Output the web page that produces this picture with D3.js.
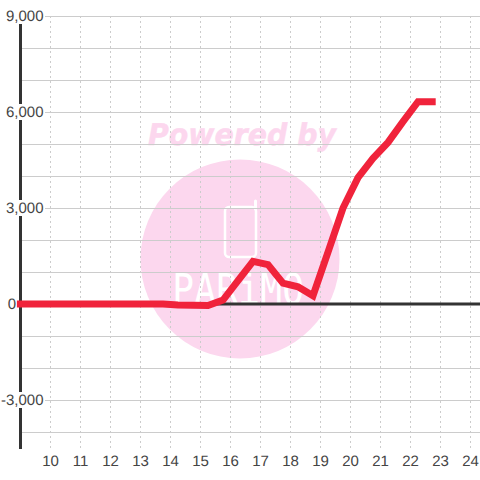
<!DOCTYPE html>
<html><head><meta charset="utf-8">
<style>html,body{margin:0;padding:0;background:#fff}svg{display:block}text{text-rendering:geometricPrecision}</style>
<script src="https://cdn.jsdelivr.net/npm/d3@7/dist/d3.min.js"></script></head>
<body><svg id="c" width="480" height="480"></svg>
<script>
const xTicks=[10,11,12,13,14,15,16,17,18,19,20,21,22,23,24];
const yGrid=[9000,8000,7000,6000,5000,4000,3000,2000,1000,-1000,-2000,-3000,-4000];
const yLabels=[9000,6000,3000,-3000];
const zeroLabel=[0];
const logoLetters=['P','A','R','i','M','O'];
const xs=[8.88,13.75,14.25,14.75,15.25,15.75,16.25,16.75,17.25,17.75,18.25,18.75,19.25,19.75,20.25,20.75,21.25,21.75,22.25,22.84];
const ys=[0,0,-30,-40,-50,120,730,1330,1230,650,540,260,1620,3000,3950,4550,5050,5700,6320,6320];
const x=d3.scaleLinear().domain([10,24]).range([50.5,470.5]);
const y=d3.scaleLinear().domain([0,9000]).range([304,16]);
const fmt=d=>d3.format(',')(d).replace('\u2212','-');
const svg=d3.select('#c');
const wm=svg.append('g');
wm.append('circle').attr('cx',240).attr('cy',259).attr('r',99.5).attr('fill','#fcd7ee');
wm.append('text').attr('x',242).attr('y',145).attr('text-anchor','middle').attr('font-family','DejaVu Sans').attr('font-weight','bold').attr('font-style','italic').attr('font-size',30).attr('textLength',188).attr('lengthAdjust','spacingAndGlyphs').attr('fill','#fcd7ee').attr('stroke','#fcd7ee').attr('stroke-width',.5).text('Powered by');
wm.append('rect').attr('x',225).attr('y',207).attr('width',31).attr('height',50).attr('rx',4).attr('fill','none').attr('stroke','#fff').attr('stroke-width',2.5);
wm.append('line').attr('x1',255.5).attr('x2',255.5).attr('y1',201).attr('y2',209).attr('stroke','#fff').attr('stroke-width',3).attr('stroke-linecap','round');
const lx=d3.scalePoint().domain(logoLetters).range([183,293]);
wm.selectAll('text.l').data(logoLetters).join('text').attr('class','l').attr('transform',d=>`translate(${lx(d)},304) scale(0.95,1.12)`).attr('text-anchor','middle').attr('font-family','DejaVu Sans Mono').attr('font-size',38).attr('fill','#fff').text(d=>d);
svg.append('g').selectAll('line').data(xTicks).join('line').attr('x1',d=>x(d)).attr('x2',d=>x(d)).attr('y1',16).attr('y2',449).attr('stroke','#ccc').attr('stroke-dasharray','2,3');
svg.append('g').selectAll('line').data(yGrid).join('line').attr('x1',20).attr('x2',480).attr('y1',d=>y(d)+.5).attr('y2',d=>y(d)+.5).attr('stroke','#ccc').attr('stroke-width',1);
svg.append('line').attr('x1',20.5).attr('x2',20.5).attr('y1',16).attr('y2',449).attr('stroke','#333').attr('stroke-width',3);
svg.append('line').attr('x1',20).attr('x2',480).attr('y1',y(0)).attr('y2',y(0)).attr('stroke','#333').attr('stroke-width',3);
const lab=svg.append('g').attr('font-family','Liberation Sans').attr('font-size',15).attr('fill','#444');
lab.selectAll('rect').data(yLabels).join('rect').attr('x',0).attr('width',45).attr('y',d=>y(d)-8).attr('height',16).attr('fill','#fff');
lab.selectAll('text.y').data(yLabels).join('text').attr('class','y').attr('x',43.5).attr('y',d=>y(d)+5).attr('text-anchor','end').text(fmt);
lab.selectAll('text.z').data(zeroLabel).join('text').attr('class','z').attr('x',16).attr('y',d=>y(d)+5).attr('text-anchor','end').text(fmt);
lab.selectAll('text.x').data(xTicks).join('text').attr('class','x').attr('x',d=>x(d)).attr('y',466).attr('text-anchor','middle').text(d=>d);
svg.append('path').attr('d',d3.line().x((d,i)=>x(xs[i])).y(d=>y(d))(ys)).attr('fill','none').attr('stroke','#f0233b').attr('stroke-width',7);
</script></body></html>
